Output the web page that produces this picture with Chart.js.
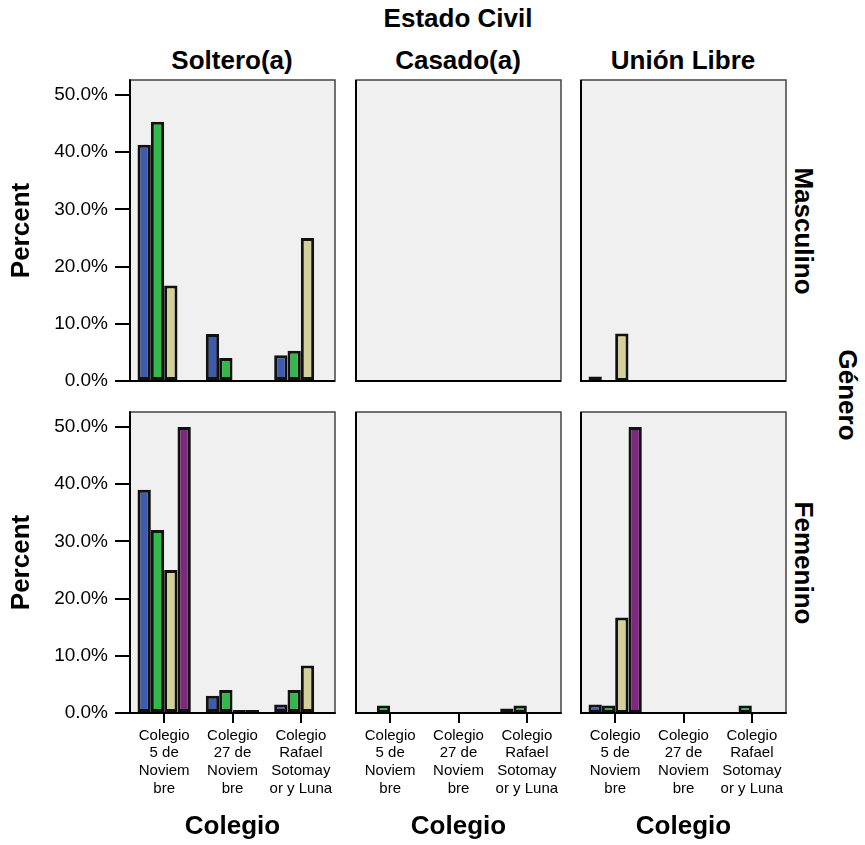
<!DOCTYPE html>
<html>
<head>
<meta charset="utf-8">
<script src="https://cdn.jsdelivr.net/npm/chart.js@4/dist/chart.umd.min.js"></script>
<style>
  html, body { margin: 0; padding: 0; background: #fff; }
  #wrap { position: relative; width: 865px; height: 845px; overflow: hidden; font-family: "Liberation Sans", Arial, sans-serif; }
  canvas { position: absolute; }
  .lbl { position: absolute; font-weight: bold; font-size: 26px; color: #000; white-space: nowrap; transform: translate(-50%, -50%); line-height: 1; }
  .rot { transform: translate(-50%, -50%) rotate(90deg); }
</style>
</head>
<body>
<div id="wrap">
  <div class="lbl" style="left:458px; top:18px;">Estado Civil</div>
  <div class="lbl" style="left:232px; top:60px;">Soltero(a)</div>
  <div class="lbl" style="left:458px; top:60px;">Casado(a)</div>
  <div class="lbl" style="left:683px; top:60px;">Unión Libre</div>
  <div class="lbl rot" style="left:804px; top:231px;">Masculino</div>
  <div class="lbl rot" style="left:804px; top:563px;">Femenino</div>
  <div class="lbl rot" style="left:848px; top:395px;">Género</div>
</div>
<script>
// ---- data ----
const categories = [
  ["Colegio", "5 de", "Noviem", "bre"],
  ["Colegio", "27 de", "Noviem", "bre"],
  ["Colegio", "Rafael", "Sotomay", "or y Luna"]
];
const seriesNames = ["Serie 1", "Serie 2", "Serie 3", "Serie 4"];
const yTicks = [0, 10, 20, 30, 40, 50];
const yMax = 52.6;

// values: [series][category], percent
const mascSoltero = [[41.3, 8.2, 4.5], [45.3, 4.0, 5.3], [16.7, null, 25.0], [null, null, null]];
const mascCasado  = [[null, null, null], [null, null, null], [null, null, null], [null, null, null]];
const mascUnion   = [[0.8, null, null], [null, null, null], [8.3, null, null], [null, null, null]];
const femSoltero  = [[39.0, 3.0, 1.5], [32.0, 4.0, 4.0], [25.0, 0, 8.3], [50.0, 0, null]];
const femCasado   = [[null, null, 0.8], [1.3, null, 1.3], [null, null, null], [null, null, null]];
const femUnion    = [[1.5, null, null], [1.3, null, 1.3], [16.7, null, null], [50.0, null, null]];

// ---- styles ----
const seriesColors = ["#3f5bae", "#33b94a", "#d4d09a", "#7d2a7e"];
const FONT = '"Liberation Sans", Arial, sans-serif';
const colLeft = [130, 356, 581];
const panelW = 205;
const rowTop = [80, 412];
const rowBottom = [381, 713];
const PAD = 22;

const framePlugin = {
  id: 'frame',
  beforeDraw(chart) {
    const a = chart.chartArea, ctx = chart.ctx;
    ctx.save();
    ctx.fillStyle = '#f0f0f0';
    ctx.fillRect(a.left, a.top, a.right - a.left, a.bottom - a.top);
    ctx.restore();
  },
  afterDatasetsDraw(chart) {
    const a = chart.chartArea, ctx = chart.ctx;
    ctx.save();
    ctx.strokeStyle = '#444';
    ctx.lineWidth = 1.5;
    ctx.strokeRect(a.left, a.top, a.right - a.left, a.bottom - a.top);
    ctx.strokeStyle = '#000';
    ctx.lineWidth = 2;
    ctx.beginPath();
    ctx.moveTo(a.left, a.top);
    ctx.lineTo(a.left, a.bottom);
    ctx.lineTo(a.right, a.bottom);
    ctx.stroke();
    ctx.restore();
  }
};

function makePanel(row, col, values) {
  const wrap = document.getElementById('wrap');
  const cv = document.createElement('canvas');
  const left = col === 0 ? 0 : colLeft[col] - 10;
  const top = rowTop[row] - PAD;
  const right = colLeft[col] + panelW + 10;
  const bottom = row === 0 ? rowBottom[row] + PAD : 845;
  const w = right - left, h = bottom - top;
  cv.width = w; cv.height = h;
  cv.style.left = left + 'px'; cv.style.top = top + 'px';
  cv.style.width = w + 'px'; cv.style.height = h + 'px';
  wrap.appendChild(cv);

  const datasets = values.map((vals, i) => ({
    label: seriesNames[i],
    data: vals,
    backgroundColor: seriesColors[i],
    borderColor: '#111',
    borderWidth: 3,
    borderSkipped: false,
    minBarLength: 3,
    barPercentage: 1.0,
    categoryPercentage: 0.78
  }));

  const xScale = {
    type: 'category',
    display: row === 1,
    offset: true,
    grid: { display: true, drawOnChartArea: false, drawTicks: true, tickLength: 10, color: '#000', lineWidth: 2, offset: false },
    border: { display: true, color: '#000', width: 2 },
    ticks: { color: '#000', font: { family: FONT, size: 15, lineHeight: 1.17 }, padding: 4, maxRotation: 0, minRotation: 0, autoSkip: false },
    title: { display: true, text: 'Colegio', color: '#000', font: { family: FONT, size: 26, weight: 'bold', lineHeight: 1.2 }, padding: { top: 0, bottom: 3 } }
  };
  if (row === 1) xScale.afterFit = s => { s.height = 845 - rowBottom[1]; };

  const yScale = {
    display: col === 0,
    min: 0,
    max: yMax,
    afterBuildTicks(s) { s.ticks = yTicks.map(v => ({ value: v })); },
    grid: { display: true, drawOnChartArea: false, drawTicks: true, tickLength: 15, color: '#000', lineWidth: 2 },
    border: { display: true, color: '#000', width: 2 },
    ticks: { color: '#000', font: { family: FONT, size: 19 }, padding: 7, includeBounds: false,
             callback: v => v.toFixed(1) + '%' },
    title: { display: true, text: 'Percent', color: '#000', font: { family: FONT, size: 26, weight: 'bold', lineHeight: 1.2 }, padding: { top: 6, bottom: 0 } }
  };
  if (col === 0) yScale.afterFit = s => { s.width = 130; };

  new Chart(cv, {
    type: 'bar',
    data: { labels: categories, datasets },
    plugins: [framePlugin],
    options: {
      responsive: false,
      animation: false,
      events: [],
      layout: { padding: { top: PAD, bottom: row === 0 ? PAD : 0, left: col === 0 ? 0 : 10, right: 10 } },
      plugins: { legend: { display: false }, tooltip: { enabled: false }, title: { display: false } },
      scales: { x: xScale, y: yScale }
    }
  });
}

makePanel(0, 0, mascSoltero);
makePanel(0, 1, mascCasado);
makePanel(0, 2, mascUnion);
makePanel(1, 0, femSoltero);
makePanel(1, 1, femCasado);
makePanel(1, 2, femUnion);
</script>
</body>
</html>
